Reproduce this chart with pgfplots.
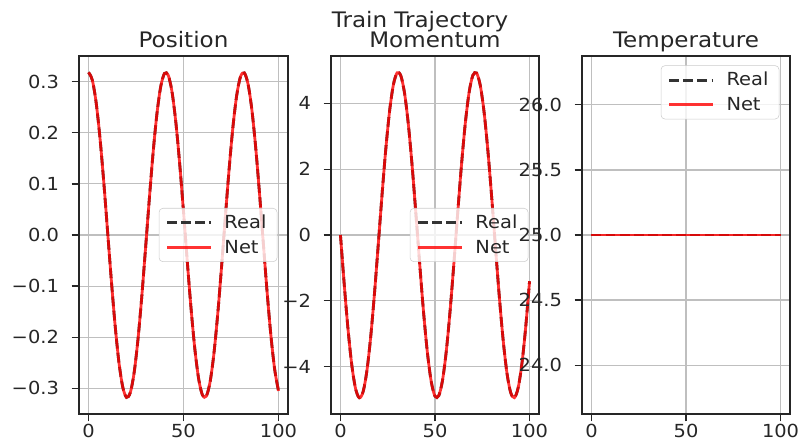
\documentclass[border=0pt]{standalone}
\usepackage{pgfplots}
\pgfplotsset{compat=1.18}
\usepackage{pgfplotstable}
\usepackage{fontspec}
\setmainfont{DejaVu Sans}[FakeStretch=1.08]

% sampled trajectory: time, position, momentum
\pgfplotstableread{
t pos mom
0 0.3180 0.000
2 0.3030 -1.503
4 0.2594 -2.863
6 0.1913 -3.954
8 0.1052 -4.672
10 0.0092 -4.948
12 -0.0878 -4.758
14 -0.1764 -4.119
16 -0.2484 -3.091
18 -0.2969 -1.772
20 -0.3175 -0.285
22 -0.3081 1.229
24 -0.2696 2.626
26 -0.2056 3.776
28 -0.1223 4.569
30 -0.0274 4.932
32 0.0700 4.829
34 0.1609 4.270
36 0.2365 3.308
38 0.2899 2.035
40 0.3159 0.569
42 0.3121 -0.950
44 0.2788 -2.380
46 0.2193 -3.585
48 0.1390 -4.452
50 0.0456 -4.899
52 -0.0520 -4.883
54 -0.1448 -4.407
56 -0.2239 -3.515
58 -0.2819 -2.291
60 -0.3133 -0.851
62 -0.3151 0.669
64 -0.2872 2.126
66 -0.2322 3.383
68 -0.1553 4.321
70 -0.0637 4.850
72 0.0339 4.922
74 0.1283 4.529
76 0.2106 3.710
78 0.2730 2.540
80 0.3096 1.130
82 0.3170 -0.386
84 0.2946 -1.866
86 0.2443 -3.169
88 0.1710 -4.174
90 0.0815 -4.785
92 -0.0156 -4.944
94 -0.1113 -4.637
96 -0.1965 -3.892
98 -0.2631 -2.780
100 -0.3049 -1.406
}\traj

\pgfplotstableread{
t temp
0 25
100 25
}\temps

\pgfplotsset{
  panel/.style={
    scale only axis, width=156pt, height=268.5pt, anchor=north west,
    xmin=-5, xmax=105, xtick={0,50,100}, xticklabels={0,50,100},
    xtick pos=bottom, ytick pos=left,
    grid=major, grid style={color=black!25, line width=0.9pt},
    axis line style={line width=1.1pt, black!85},
    tick style={black!85, line width=1pt}, tick align=outside, major tick length=5.5pt,
    ticklabel style={font=\fontsize{13.5}{16}\selectfont, text=black!85},
    yticklabel style={xshift=-6pt},
    xticklabel style={yshift=1.5pt},
    title style={at={(0.5,1)}, anchor=base, yshift=0.5pt, font=\fontsize{16}{19}\selectfont, text=black!85},
    legend cell align=left,
    legend image code/.code={\draw[#1] (0pt,0pt) -- (33pt,0pt); \path (39pt,0pt);},
    legend style={draw=black!20, rounded corners=3pt, fill=white, fill opacity=0.8,
      text opacity=1, font=\fontsize{13.5}{16}\selectfont, text=black!85,
      inner xsep=5pt, inner ysep=3pt, row sep=3pt,
      nodes={inner xsep=3pt}},
  },
  real/.style={black!80, line width=2.1pt, dash pattern=on 7.4pt off 3.2pt},
  net/.style={red, opacity=0.8, line width=2.1pt},
}

\begin{document}
\begin{tikzpicture}
\path[use as bounding box] (0,0) rectangle (599.25pt,-330.75pt);

\begin{axis}[panel, at={(59.25pt,-42pt)}, width=156.75pt,
  title={Position},
  ymin=-0.35, ymax=0.35,
  ytick={-0.3,-0.2,-0.1,0,0.1,0.2,0.3},
  yticklabels={−0.3,−0.2,−0.1,0.0,0.1,0.2,0.3},
  legend style={at={(1,0.5)}, anchor=east, xshift=-8pt}]
\addplot[real, smooth] table[x=t, y=pos] {\traj};
\addplot[net, smooth] table[x=t, y=pos] {\traj};
\legend{Real, Net}
\end{axis}

\begin{axis}[panel, at={(248.25pt,-42pt)},
  title={Momentum},
  ymin=-5.44, ymax=5.44,
  ytick={-4,-2,0,2,4},
  yticklabels={−4,−2,0,2,4},
  legend style={at={(1,0.5)}, anchor=east, xshift=-8pt}]
\addplot[real, smooth] table[x=t, y=mom] {\traj};
\addplot[net, smooth] table[x=t, y=mom] {\traj};
\legend{Real, Net}
\end{axis}

\begin{axis}[panel, at={(436.5pt,-42pt)},
  title={Temperature},
  ymin=23.625, ymax=26.375,
  ytick={24,24.5,25,25.5,26},
  yticklabels={24.0,24.5,25.0,25.5,26.0},
  legend style={at={(1,1)}, anchor=north east, xshift=-8pt, yshift=-7pt}]
\addplot[real] table[x=t, y=temp] {\temps};
\addplot[net] table[x=t, y=temp] {\temps};
\legend{Real, Net}
\end{axis}

\node[anchor=base, font=\fontsize{16}{19}\selectfont, text=black!85] at (315pt,-20.5pt) {Train Trajectory};
\end{tikzpicture}
\end{document}
